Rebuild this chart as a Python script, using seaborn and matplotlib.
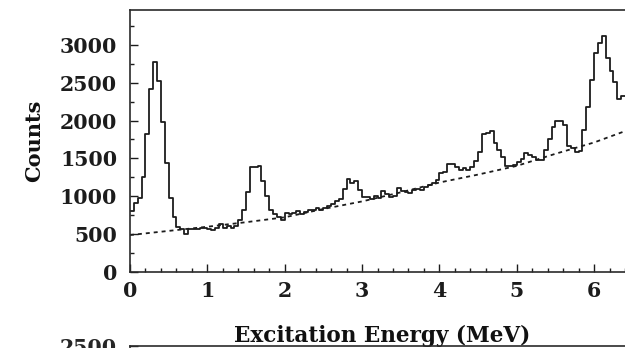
import numpy as np
import pandas as pd
import matplotlib
matplotlib.use("Agg")
import matplotlib.pyplot as plt
import seaborn as sns
from matplotlib.ticker import MultipleLocator

# ---- data ----
bin_width = 0.05  # MeV
counts = [
    800, 905, 980, 1250, 1820, 2420, 2770, 2520, 1980, 1440,
    970, 720, 590, 560, 505, 560, 565, 570, 575, 575,
    570, 555, 580, 630, 575, 600, 580, 600, 690, 820,
    1050, 1390, 1380, 1400, 1200, 1000, 810, 770, 730, 690,
    780, 760, 775, 800, 770, 790, 810, 815, 840, 820,
    845, 870, 890, 930, 960, 1100, 1225, 1180, 1200, 1080,
    990, 985, 960, 1000, 970, 1065, 1030, 985, 1000, 1110,
    1070, 1050, 1045, 1080, 1100, 1085, 1125, 1145, 1170, 1220,
    1300, 1325, 1420, 1420, 1390, 1340, 1370, 1345, 1390, 1470,
    1590, 1820, 1840, 1860, 1700, 1610, 1520, 1400, 1400, 1410,
    1450, 1490, 1565, 1550, 1520, 1480, 1480, 1610, 1760, 1910,
    1990, 1990, 1940, 1660, 1640, 1590, 1600, 1870, 2180, 2540,
    2890, 3030, 3120, 2830, 2660, 2510, 2280, 2320,
]
bg_energy = [0.0, 0.5, 1.0, 1.5, 2.0, 2.5, 3.0, 3.5, 4.0, 4.5, 5.0, 5.5, 6.0, 6.4]
bg_counts = [485, 540, 595, 655, 720, 830, 930, 1050, 1180, 1285, 1400, 1560, 1710, 1860]

x_ticks = [0, 1, 2, 3, 4, 5, 6]
y_ticks = [0, 500, 1000, 1500, 2000, 2500, 3000]
x_label = "Excitation Energy (MeV)"
y_label = "Counts"
next_panel_tick = [2500]

n_bins = len(counts)
centers = (np.arange(n_bins) + 0.5) * bin_width
df = pd.DataFrame({"energy": centers, "counts": counts})
bg = pd.DataFrame({"energy": bg_energy, "counts": bg_counts})

sns.set_theme(style="ticks")
plt.rcParams["font.family"] = ["DejaVu Serif"]
plt.rcParams["font.weight"] = "bold"

fig = plt.figure(figsize=(6.25, 3.48), dpi=100)
W, H = 625, 348
ax = fig.add_axes([130 / W, (H - 271.7) / H, 1 - 130 / W, (271.7 - 10) / H])

sns.histplot(data=df, x="energy", weights="counts", binwidth=bin_width,
             binrange=(0, n_bins * bin_width), element="step",
             fill=False, color="#1c1c1c", linewidth=1.3, ax=ax)
sns.lineplot(data=bg, x="energy", y="counts", color="#1c1c1c", linewidth=1.3,
             linestyle=(0, (2.2, 2.2)), ax=ax)

ax.set_xlim(0, 6.4)
ax.set_ylim(0, 3463)
ax.set_xticks(x_ticks)
ax.set_yticks(y_ticks)
ax.xaxis.set_minor_locator(MultipleLocator(0.2))
ax.yaxis.set_minor_locator(MultipleLocator(250))
ax.tick_params(axis="both", which="both", direction="in", width=1.0,
               colors="#1c1c1c", labelsize=14.8)
ax.tick_params(axis="both", which="major", length=6)
ax.tick_params(axis="both", which="minor", length=3.2)
ax.tick_params(axis="x", which="both", top=False, pad=6.5)
ax.tick_params(axis="y", which="both", right=False, pad=9.3)
for lab in ax.get_xticklabels() + ax.get_yticklabels():
    lab.set_fontweight("bold")

for side in ["left", "bottom", "top"]:
    ax.spines[side].set_linewidth(1.2)
    ax.spines[side].set_color("#2a2a2a")
ax.spines["right"].set_visible(False)

ax.set_xlabel(x_label, fontsize=15.5, fontweight="bold", color="#111111")
ax.set_ylabel(y_label, fontsize=15, fontweight="bold", color="#111111")
ax.xaxis.set_label_coords(0.509, -0.2018)
ax.yaxis.set_label_coords(-0.174, 0.5)

# top of the next (cropped) panel
ax2 = fig.add_axes([130 / W, (H - 346) / H - 0.5, 1 - 130 / W, 0.5])
ax2.set_ylim(0, 2500)
ax2.set_yticks(next_panel_tick)
ax2.set_xticks([])
ax2.tick_params(axis="y", direction="in", length=6, width=1.0, pad=9.3,
                labelsize=14.8)
for lab in ax2.get_yticklabels():
    lab.set_fontweight("bold")
ax2.spines["right"].set_visible(False)
for side in ["left", "bottom", "top"]:
    ax2.spines[side].set_linewidth(1.2)
    ax2.spines[side].set_color("#2a2a2a")
ax2.set_facecolor("none")

fig.savefig("out.png", dpi=100)
